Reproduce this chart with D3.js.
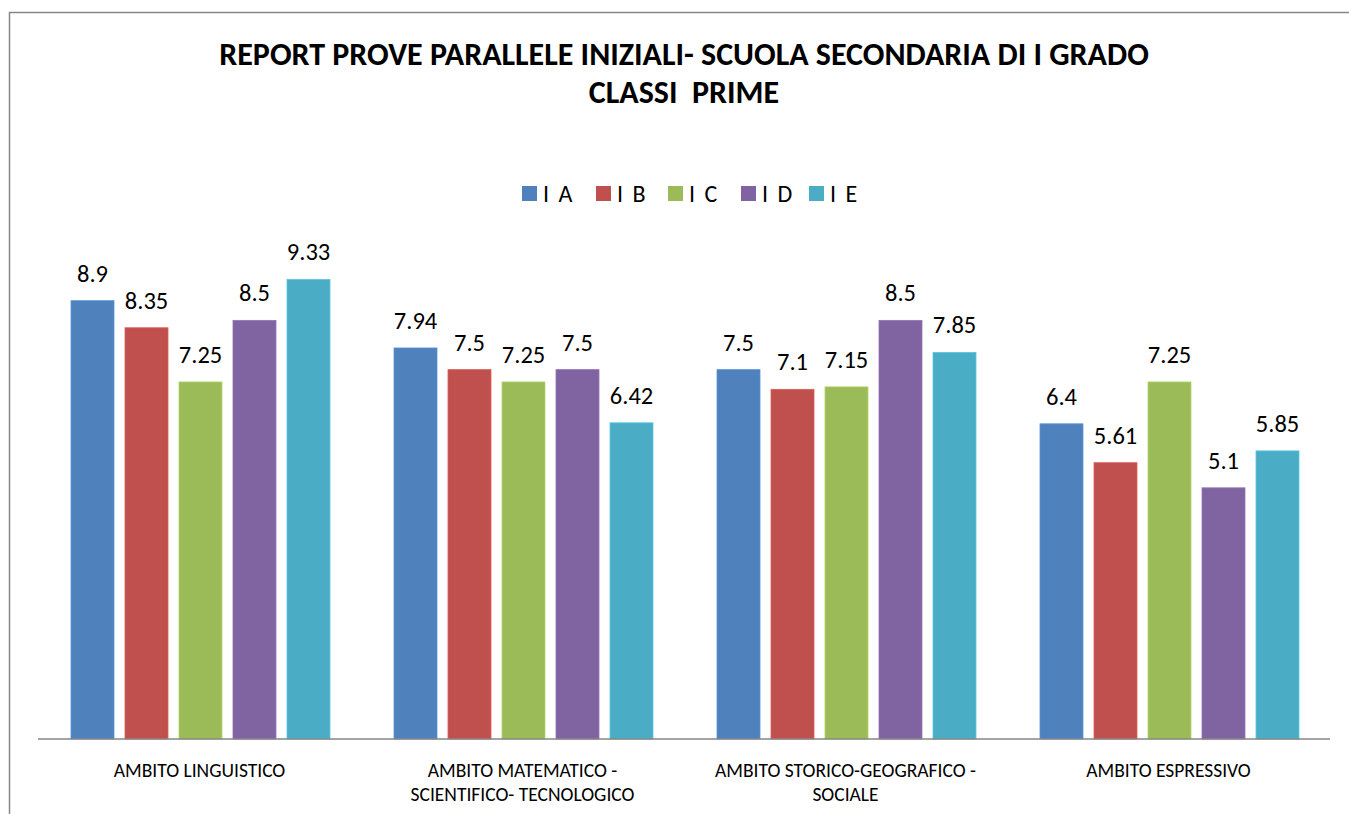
<!DOCTYPE html>
<html><head><meta charset="utf-8">
<script src="https://cdn.jsdelivr.net/npm/d3@7"></script>
<style>body{margin:0;background:#fff}svg{display:block}</style>
</head><body>
<script>
const categories = [["AMBITO LINGUISTICO"], ["AMBITO MATEMATICO -", "SCIENTIFICO- TECNOLOGICO"], ["AMBITO STORICO-GEOGRAFICO -", "SOCIALE"], ["AMBITO ESPRESSIVO"]];
const seriesNames = ["I A", "I B", "I C", "I D", "I E"];
const seriesColors = ["#4F81BD", "#C0504D", "#9BBB59", "#8064A2", "#4BACC6"];
const valuesIA = [8.9, 7.94, 7.5, 6.4];
const valuesIB = [8.35, 7.5, 7.1, 5.61];
const valuesIC = [7.25, 7.25, 7.15, 7.25];
const valuesID = [8.5, 7.5, 8.5, 5.1];
const valuesIE = [9.33, 6.42, 7.85, 5.85];
const seriesValues = [valuesIA, valuesIB, valuesIC, valuesID, valuesIE];
const titleLines = ["REPORT PROVE PARALLELE INIZIALI- SCUOLA SECONDARIA DI I GRADO", "CLASSI  PRIME"];

const W = 1349, H = 814;
const svg = d3.select("body").append("svg").attr("width", W).attr("height", H);
svg.append("rect").attr("width", W).attr("height", H).attr("fill", "#fff");
// chart frame
svg.append("path").attr("d", `M9.5,${H+5} V12.5 H${W+5}`).attr("fill", "none").attr("stroke", "#888").attr("stroke-width", 1.5);

const left = 38, right = 1330, base = 739;
const x0 = d3.scaleBand().domain(d3.range(categories.length)).range([left, right]).paddingInner(0).paddingOuter(0);
const x1 = d3.scaleBand().domain(d3.range(seriesNames.length)).range([33, 33 + 4 * 54 + 43]).paddingInner(11 / 54).paddingOuter(0);
const y = d3.scaleLinear().domain([0, 10]).range([base, base - 492.5]);

const font = "Carlito, 'Liberation Sans Narrow', 'Open Sans', sans-serif";

// title
const t = svg.append("text").attr("text-anchor", "middle").attr("font-family", font).attr("font-weight", "bold").attr("font-size", 32).attr("fill", "#000");
titleLines.forEach((l, i) => t.append("tspan").attr("x", 684).attr("y", 65 + i * 38).style("white-space", "pre").text(l));

// legend
const legX = [522, 596, 668, 741, 809];
const lg = svg.append("g");
seriesNames.forEach((n, i) => {
  lg.append("rect").attr("x", legX[i]).attr("y", 186).attr("width", 15).attr("height", 15).attr("fill", seriesColors[i]);
  lg.append("text").attr("x", legX[i] + 21).attr("y", 202).attr("font-family", font).attr("font-size", 24).attr("letter-spacing", 2).attr("fill", "#000").text(n);
});

// bars
const groups = svg.selectAll("g.cat").data(categories).join("g").attr("class", "cat")
  .attr("transform", (d, i) => `translate(${x0(i)},0)`);
groups.each(function(c, ci) {
  const g = d3.select(this);
  seriesValues.forEach((vals, si) => {
    const v = vals[ci];
    g.append("rect").attr("x", x1(si)).attr("y", y(v)).attr("width", x1.bandwidth()).attr("height", base - y(v))
      .attr("fill", seriesColors[si]).attr("stroke", d3.color(seriesColors[si]).brighter(0.4)).attr("stroke-width", 0.8);
    g.append("text").attr("x", x1(si) + x1.bandwidth() / 2).attr("y", y(v) - 19)
      .attr("text-anchor", "middle").attr("font-family", font).attr("font-size", 24.5).attr("fill", "#000").text(v);
  });
});

// axis
const xAxis = d3.axisBottom(x0).tickSize(0).tickFormat("");
const ax = svg.append("g").attr("transform", `translate(0,${base})`).call(xAxis);
ax.select(".domain").attr("stroke", "#868686").attr("stroke-width", 1.5).attr("d", `M${left},0H${right}`);
categories.forEach((lines, i) => {
  const tx = svg.append("text").attr("text-anchor", "middle").attr("font-family", font).attr("font-size", 19.5).attr("fill", "#000");
  lines.forEach((l, j) => tx.append("tspan").attr("x", x0(i) + x0.bandwidth() / 2).attr("y", 777 + j * 24).text(l));
});
</script>
</body></html>
